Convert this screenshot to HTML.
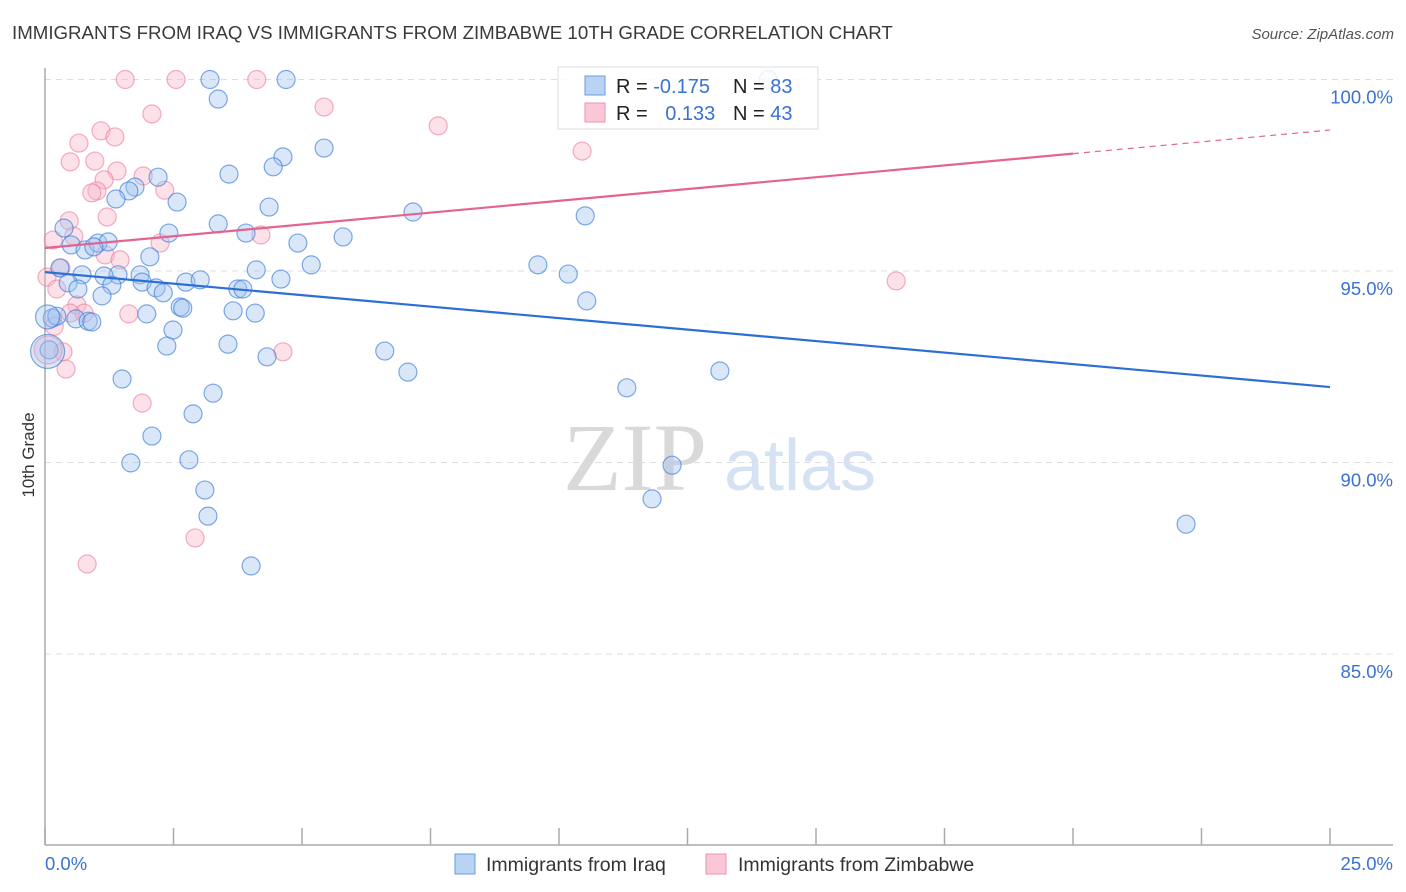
<!DOCTYPE html>
<html><head><meta charset="utf-8">
<style>
body{margin:0;background:#fff;font-family:"Liberation Sans",sans-serif;}
#wrap{position:relative;width:1406px;height:892px;overflow:hidden;}
</style></head>
<body>
<div id="wrap">
<svg id="chart" width="1406" height="892">
  <text x="12" y="39" font-size="18.7" fill="#3a3a3a">IMMIGRANTS FROM IRAQ VS IMMIGRANTS FROM ZIMBABWE 10TH GRADE CORRELATION CHART</text>
  <text x="1394" y="39" font-size="15" fill="#555" font-style="italic" text-anchor="end">Source: ZipAtlas.com</text>
  <g>
    <text x="635" y="490" font-size="96" font-family="Liberation Serif,serif" fill="#d9d9d9" text-anchor="middle">ZIP</text>
    <text x="800" y="490" font-size="72" fill="#d5e2f3" text-anchor="middle">atlas</text>
  </g>
  <g id="grid"></g>
  <g id="axes"></g>
  <g id="pts"></g>
  <g id="lines"></g>
  <text transform="translate(34,455) rotate(-90)" font-size="17" fill="#333" text-anchor="middle">10th Grade</text>
  <g>
    <rect x="558" y="67" width="260" height="62" fill="#fff" fill-opacity="0.85" stroke="#ddd"/>
    <rect x="585" y="76" width="20" height="19" fill="#b9d3f5" stroke="#6a9de0"/>
    <rect x="585" y="103" width="20" height="19" fill="#fac7d6" stroke="#ee92ae"/>
    <text x="616" y="93" font-size="20" fill="#222">R = <tspan fill="#3a72d0">-0.175</tspan></text>
    <text x="733" y="93" font-size="20" fill="#222">N = <tspan fill="#3a72d0">83</tspan></text>
    <text x="616" y="120" font-size="20" fill="#222">R = <tspan fill="#3a72d0" dx="12">0.133</tspan></text>
    <text x="733" y="120" font-size="20" fill="#222">N = <tspan fill="#3a72d0">43</tspan></text>
  </g>
  <g>
    <rect x="455" y="854" width="20" height="20" fill="#b9d3f5" stroke="#6a9de0"/>
    <text x="486" y="871" font-size="19.5" fill="#333">Immigrants from Iraq</text>
    <rect x="706" y="854" width="20" height="20" fill="#fac7d6" stroke="#ee92ae"/>
    <text x="738" y="871" font-size="19.5" fill="#333">Immigrants from Zimbabwe</text>
  </g>
</svg>
</div>
<script>
const iraqX=[3.21,4.69,14.07,3.37,5.43,4.63,4.44,3.58,2.20,1.75,1.63,1.38,2.57,4.36,7.16,10.51,3.37,2.41,3.91,5.80,4.92,0.37,0.51,0.78,1.03,1.23,0.95,2.04,9.59,0.29,5.18,4.11,10.18,0.72,1.42,1.15,1.85,2.74,3.02,4.59,1.89,0.45,1.30,2.16,3.75,3.85,2.30,0.64,1.11,10.54,2.63,2.68,3.66,4.09,1.98,0.60,0.84,0.91,0.14,0.23,2.49,2.37,3.56,6.61,4.32,0.08,7.06,13.13,1.50,11.32,3.27,2.88,2.08,2.80,1.67,12.20,3.11,11.81,3.17,22.20,4.01,0.05,0.05];
const iraqY=[100.0,100.0,100.0,99.49,98.21,97.98,97.72,97.53,97.45,97.19,97.09,96.88,96.80,96.67,96.54,96.44,96.23,95.99,95.99,95.89,95.73,96.12,95.68,95.55,95.73,95.76,95.63,95.37,95.16,95.08,95.16,95.03,94.92,94.90,94.90,94.87,94.90,94.71,94.77,94.79,94.71,94.69,94.63,94.56,94.53,94.53,94.43,94.53,94.35,94.22,94.06,94.03,93.96,93.90,93.88,93.75,93.69,93.67,93.77,93.82,93.46,93.04,93.09,92.91,92.76,92.94,92.36,92.39,92.18,91.95,91.81,91.27,90.69,90.07,89.99,89.93,89.28,89.05,88.60,88.39,87.30,93.80,92.90];
const iraqSize=[9,9,9,9,9,9,9,9,9,9,9,9,9,9,9,9,9,9,9,9,9,9,9,9,9,9,9,9,9,9,9,9,9,9,9,9,9,9,9,9,9,9,9,9,9,9,9,9,9,9,9,9,9,9,9,9,9,9,9,9,9,9,9,9,9,9,9,9,9,9,9,9,9,9,9,9,9,9,9,9,9,12,17];
const zimX=[1.56,2.55,4.12,5.43,2.08,7.65,1.09,1.36,0.66,10.45,0.49,0.97,1.40,1.91,1.15,1.01,0.91,2.33,1.21,0.47,0.56,0.16,4.20,2.24,1.17,1.46,0.31,0.04,16.56,0.23,0.62,0.76,1.63,0.49,0.18,0.35,4.63,0.41,1.89,2.92,0.82,0.06];
const zimY=[100.0,100.0,100.0,99.28,99.10,98.79,98.66,98.50,98.34,98.13,97.85,97.87,97.61,97.48,97.38,97.09,97.04,97.11,96.41,96.31,95.91,95.81,95.94,95.73,95.42,95.29,95.08,94.84,94.74,94.53,94.11,93.90,93.88,93.90,93.56,92.89,92.89,92.44,91.55,88.03,87.35,92.94];
const zimSize=[9,9,9,9,9,9,9,9,9,9,9,9,9,9,9,9,9,9,9,9,9,9,9,9,9,9,9,9,9,9,9,9,9,9,9,9,9,9,9,9,9,14];
const yTicks=[100,95,90,85];
const yTickLabels=["100.0%","95.0%","90.0%","85.0%"];
const xTickVals=[0,2.5,5,7.5,10,12.5,15,17.5,20,22.5,25];
const iraqTrend=[94.97,91.97];
const zimTrend=[95.6,98.68];

const NS="http://www.w3.org/2000/svg";
const X0=45,X1=1330,Y100=79.5,PXPER=38.3;
function sx(v){return X0+(v/25)*(X1-X0);}
function sy(v){return Y100+(100-v)*PXPER;}
function mk(tag,attrs,parent){const e=document.createElementNS(NS,tag);for(const k in attrs)e.setAttribute(k,attrs[k]);parent.appendChild(e);return e;}

const grid=document.getElementById('grid');
yTicks.forEach((t,i)=>{
  const l=mk('line',{x1:X0,x2:1393,y1:sy(t),y2:sy(t),stroke:'#ddd','stroke-dasharray':'6,5'},grid);
  
  
  const tx=mk('text',{x:1393,y:sy(t)+24,'font-size':18.5,fill:'#3a72d0','text-anchor':'end'},grid);
  tx.textContent=yTickLabels[i];
  
  
});
const axes=document.getElementById('axes');
const ya=mk('line',{x1:X0,x2:X0,y1:68,y2:845,stroke:'#aaa','stroke-width':1.5},axes);


const xa=mk('line',{x1:X0,x2:1393,y1:845,y2:845,stroke:'#aaa','stroke-width':1.5},axes);


xTickVals.forEach(v=>{
  const t=mk('line',{x1:sx(v),x2:sx(v),y1:828,y2:845,stroke:'#aaa','stroke-width':1.5},axes);
  
  
});
const xl0=mk('text',{x:45,y:870,'font-size':18.5,fill:'#3a72d0'},axes);
xl0.textContent='0.0%';


const xl1=mk('text',{x:1393,y:870,'font-size':18.5,fill:'#3a72d0','text-anchor':'end'},axes);
xl1.textContent='25.0%';



const pts=document.getElementById('pts');
zimX.forEach((v,i)=>{
  const c=mk('circle',{cx:sx(v),cy:sy(zimY[i]),r:zimSize[i],fill:'rgba(248,180,200,0.4)',stroke:'rgba(236,120,155,0.6)','stroke-width':1.2},pts);
  
  
});
iraqX.forEach((v,i)=>{
  const c=mk('circle',{cx:sx(v),cy:sy(iraqY[i]),r:iraqSize[i],fill:'rgba(160,195,240,0.4)',stroke:'rgba(60,125,215,0.65)','stroke-width':1.2},pts);
  
  
});
const lines=document.getElementById('lines');
const bl=mk('line',{x1:sx(0),y1:sy(iraqTrend[0]),x2:sx(25),y2:sy(iraqTrend[1]),stroke:'#2b6fd6','stroke-width':2.2},lines);


const zx=20;
const zyMid=zimTrend[0]+(zimTrend[1]-zimTrend[0])*zx/25;
const pl=mk('line',{x1:sx(0),y1:sy(zimTrend[0]),x2:sx(zx),y2:sy(zyMid),stroke:'#e5648f','stroke-width':2.2},lines);


const pd=mk('line',{x1:sx(zx),y1:sy(zyMid),x2:sx(25),y2:sy(zimTrend[1]),stroke:'#e5648f','stroke-width':1.2,'stroke-dasharray':'6,5'},lines);


</script>
</body></html>
